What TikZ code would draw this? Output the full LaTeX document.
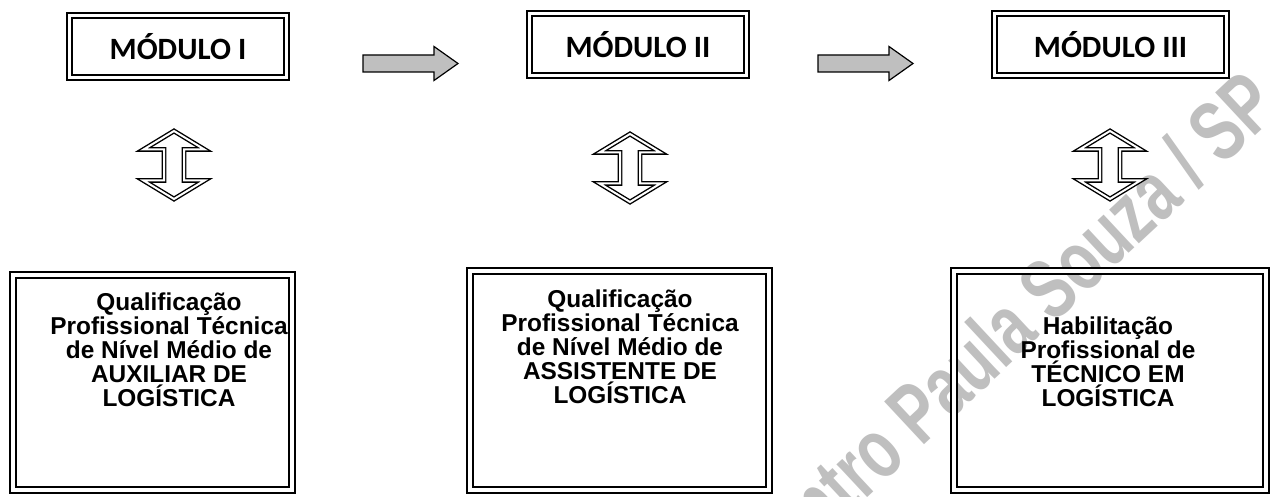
\documentclass[tikz,border=0pt]{standalone}
\usepackage{fontspec}
\setmainfont{Liberation Sans}
\newfontfamily\calibri{Carlito}
\usetikzlibrary{positioning}

\tikzset{
  modbox/.style={draw, double, line width=1pt, double distance=1.5pt,
    minimum height=31pt, inner sep=0pt,
    font=\calibri\fontsize{15.5}{18}\selectfont\bfseries},
  qualbox/.style={draw, double, line width=1.2pt, double distance=1.6pt,
    minimum height=109.5pt, inner sep=0pt},
  qualtext/.style={align=center, inner sep=0pt,
    font=\fontsize{12.2}{12}\selectfont\bfseries},
  nextarrow/.pic={
    \draw[fill=black!25, line width=0.6pt, line join=miter]
      (-47.5,-8.5) -- (23.5,-8.5) -- (23.5,-17) -- (47.5,0)
      -- (23.5,17) -- (23.5,8.5) -- (-47.5,8.5) -- cycle;},
  linkarrow/.pic={
    \draw[double, line width=0.7pt, double distance=1pt, line join=miter]
      (0,-34) -- (30.5,-15.5) -- (10,-15.5) -- (10,15.5) -- (30.5,15.5)
      -- (0,34) -- (-30.5,15.5) -- (-10,15.5) -- (-10,-15.5)
      -- (-30.5,-15.5) -- cycle;}
}

\begin{document}
\begin{tikzpicture}[x=0.5pt, y=-0.5pt]
    \useasboundingbox (0,0) rectangle (1274,497);
    \clip (0,0) rectangle (1274,497);
    \fill[white] (0,0) rectangle (1274,497);

    % marca d'agua
    \node[text=black!25, rotate=43, xscale=0.72,
          font=\fontsize{42.5}{42.5}\selectfont\bfseries] (wm) at (1003,330)
          {Centro Paula Souza / SP};

    % modulos
    \node[modbox, minimum width=108.5pt] (m1) at (178,47)    {MÓDULO I};
    \node[modbox, minimum width=108.5pt] (m2) at (638,44.5)  {MÓDULO II};
    \node[modbox, minimum width=116pt]   (m3) at (1110.5,44.5) {MÓDULO III};

    \pic (n12) at (410.5,63.5) {nextarrow};
    \pic (n23) at (865.5,63.5) {nextarrow};

    \pic (l1) at (174,165)  {linkarrow};
    \pic (l2) at (630,168)  {linkarrow};
    \pic (l3) at (1110,165) {linkarrow};

    % qualificacoes
    \node[qualbox, minimum width=139.5pt, minimum height=107.5pt] (q1) at (152.5,382.5) {};
    \node[qualbox, minimum width=149.5pt] (q2) at (619.5,380.5) {};
    \node[qualbox, minimum width=156pt]   (q3) at (1110,380.5)  {};

    \node[qualtext] (t1) at (169,350)
        {Qualificação\\Profissional Técnica\\de Nível Médio de\\AUXILIAR DE\\LOGÍSTICA};
    \node[qualtext] (t2) at (620,347)
        {Qualificação\\Profissional Técnica\\de Nível Médio de\\ASSISTENTE DE\\LOGÍSTICA};
    \node[qualtext] (t3) at (1108,362)
        {Habilitação\\Profissional de\\TÉCNICO EM\\LOGÍSTICA};
\end{tikzpicture}
\end{document}
